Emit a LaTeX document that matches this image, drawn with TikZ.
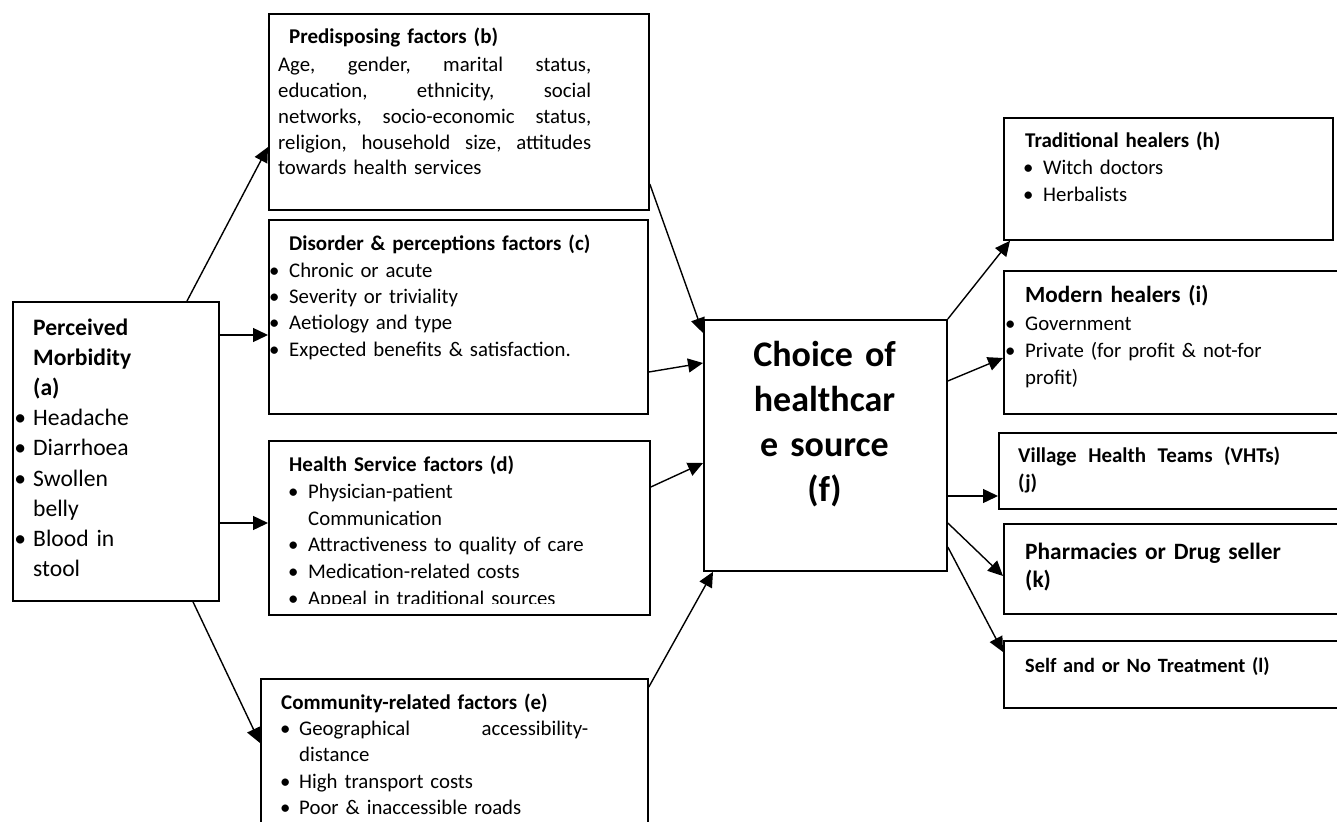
\documentclass[tikz,border=0pt]{standalone}
\usepackage{fontspec}
\setmainfont{Carlito}
\usetikzlibrary{arrows.meta,calc}
\newcommand\bulx[1]{\leavevmode\llap{\makebox[0pt]{\textbullet}\hspace{#1}}}
\newcommand\jline[2]{\leavevmode\hbox to #1{#2}}
\tikzset{
  box/.style={draw, line width=1.8pt, inner sep=0pt, anchor=north west},
  txt/.style={anchor=base west, inner sep=0pt, align=left, text width=340pt},
  conn/.style={line width=1.4pt, -{Triangle[length=15pt,width=14pt]}},
}
\begin{document}
\begin{tikzpicture}[x=1pt,y=-1pt]
\clip (0,0) rectangle (1337,821);
% boxes
\node[box, minimum width=206pt, minimum height=299pt] (a) at (12,301) {};
\node[box, minimum width=380pt, minimum height=196pt] (b) at (268,13) {};
\node[box, minimum width=379pt, minimum height=194pt] (c) at (268,219) {};
\node[box, minimum width=381pt, minimum height=174pt] (d) at (268,440) {};
\node[box, minimum width=387pt, minimum height=200pt] (e) at (260,678) {};
\node[box, minimum width=243pt, minimum height=251pt] (f) at (703,319) {};
\node[box, minimum width=329pt, minimum height=122pt] (h) at (1003,117) {};
\node[box, minimum width=360pt, minimum height=143pt] (i) at (1003,270) {};
\node[box, minimum width=360pt, minimum height=76pt] (j) at (998,432) {};
\node[box, minimum width=360pt, minimum height=90pt] (k) at (1003,523) {};
\node[box, minimum width=360pt, minimum height=67pt] (l) at (1003,640) {};
% texts
\node[txt, text width=180pt, font=\fontsize{23.6}{30.2}\selectfont] (at) at (33,335)
 {\textbf{Perceived}\\\textbf{Morbidity}\\\textbf{(a)}\\\bulx{13pt}Headache\\\bulx{13pt}Diarrhoea\\\bulx{13pt}Swollen\\belly\\\bulx{13pt}Blood in\\stool};
\node[txt, font=\bfseries\fontsize{21}{26}\selectfont] (bt) at (289,43.5) {Predisposing factors (b)};
\node[txt, font=\fontsize{20.8}{25.8}\selectfont] (bb) at (278,71.7)
 {\jline{313pt}{Age,\hfill gender,\hfill marital\hfill status,}\\
  \jline{313pt}{education,\hfill ethnicity,\hfill social}\\
  \jline{313pt}{networks,\hfill socio-economic\hfill status,}\\
  \jline{313pt}{religion,\hfill household\hfill size,\hfill attitudes}\\
  towards health services};
\node[txt, font=\fontsize{20.8}{26.4}\selectfont] (ct) at (289,250.7)
 {\textbf{\fontsize{21}{26.4}\selectfont Disorder \& perceptions factors (c)}\\
  \bulx{15pt}Chronic or acute\\
  \bulx{15pt}Severity or triviality\\
  \bulx{15pt}Aetiology and type\\
  \bulx{15pt}Expected benefits \& satisfaction.};
\begin{scope}
\clip (268,440) rectangle (649,603);
\node[txt, font=\fontsize{20.8}{26.7}\selectfont] (dt) at (289,471.7)
 {\textbf{\fontsize{21}{26.7}\selectfont Health Service factors (d)}\\
  \hspace*{19pt}\bulx{15pt}Physician-patient\\
  \hspace*{19pt}Communication\\
  \hspace*{19pt}\bulx{15pt}Attractiveness to quality of care\\
  \hspace*{19pt}\bulx{15pt}Medication-related costs\\
  \hspace*{19pt}\bulx{15pt}Appeal in traditional sources};
\end{scope}
\node[txt, font=\fontsize{20.8}{26.3}\selectfont] (et) at (281,709.3)
 {\textbf{\fontsize{21}{26.3}\selectfont Community-related factors (e)}\\
  \hspace*{18pt}\bulx{14pt}\jline{289pt}{Geographical\hfill accessibility-}\\
  \hspace*{18pt}distance\\
  \hspace*{18pt}\bulx{14pt}High transport costs\\
  \hspace*{18pt}\bulx{14pt}Poor \& inaccessible roads};
\node[anchor=base, inner sep=0pt, align=center, text width=240pt,
  font=\bfseries\fontsize{36}{45}\selectfont] (ft) at (824.5,366.7)
 {Choice of\\healthcar\\e source\\(f)};
\node[txt, font=\fontsize{20.8}{26.7}\selectfont] (ht) at (1025,147.7)
 {\textbf{\fontsize{21}{26.7}\selectfont Traditional healers (h)}\\
  \hspace*{18pt}\bulx{15pt}Witch doctors\\
  \hspace*{18pt}\bulx{15pt}Herbalists};
\node[txt, font=\bfseries\fontsize{23.2}{28}\selectfont] (it) at (1025,302.7) {Modern healers (i)};
\node[txt, font=\fontsize{20.8}{26.7}\selectfont] (ib) at (1025,330.7)
 {\bulx{15pt}Government\\
  \bulx{15pt}Private (for profit \& not-for\\
  profit)};
\node[txt, font=\bfseries\fontsize{21}{26.6}\selectfont] (jt) at (1018,462.7)
 {\jline{262pt}{Village\hfill Health\hfill Teams\hfill (VHTs)}\\(j)};
\node[txt, font=\bfseries\fontsize{23.4}{28}\selectfont] (kt) at (1025,559.3)
 {Pharmacies or Drug seller\\(k)};
\node[txt, font=\bfseries\fontsize{20.3}{26}\selectfont] (lt) at (1025,672.7)
 {Self and or No Treatment (l)};
% connectors
\draw[conn] ($(a.north west)+(175,0)$) -- ($(b.north west)+(0,134)$);
\draw[conn] ($(a.north east)+(0,34)$) -- ($(c.north west)+(0,116)$);
\draw[conn] ($(a.north east)+(0,222)$) -- ($(d.north west)+(0,83)$);
\draw[conn] ($(a.south west)+(181,0)$) -- ($(e.north west)+(0,65)$);
\draw[conn] ($(b.north east)+(0,171)$) -- ($(f.north west)+(0,14)$);
\draw[conn] ($(c.north east)+(0,153)$) -- ($(f.north west)+(0,44)$);
\draw[conn] ($(d.north east)+(0,47)$) -- ($(f.north west)+(0,144)$);
\draw[conn] ($(e.north east)+(0,9)$) -- ($(f.south west)+(10,0)$);
\draw[conn] (f.north east) -- ($(h.south west)+(7,0)$);
\draw[conn] ($(f.north east)+(0,62)$) -- ($(i.north west)+(0,88)$);
\draw[conn] ($(f.north east)+(0,177)$) -- ($(j.north west)+(0,64)$);
\draw[conn] ($(f.north east)+(0,204)$) -- ($(k.north west)+(0,53)$);
\draw[conn] ($(f.north east)+(0,228)$) -- ($(l.north west)+(0,12)$);
\end{tikzpicture}
\end{document}
